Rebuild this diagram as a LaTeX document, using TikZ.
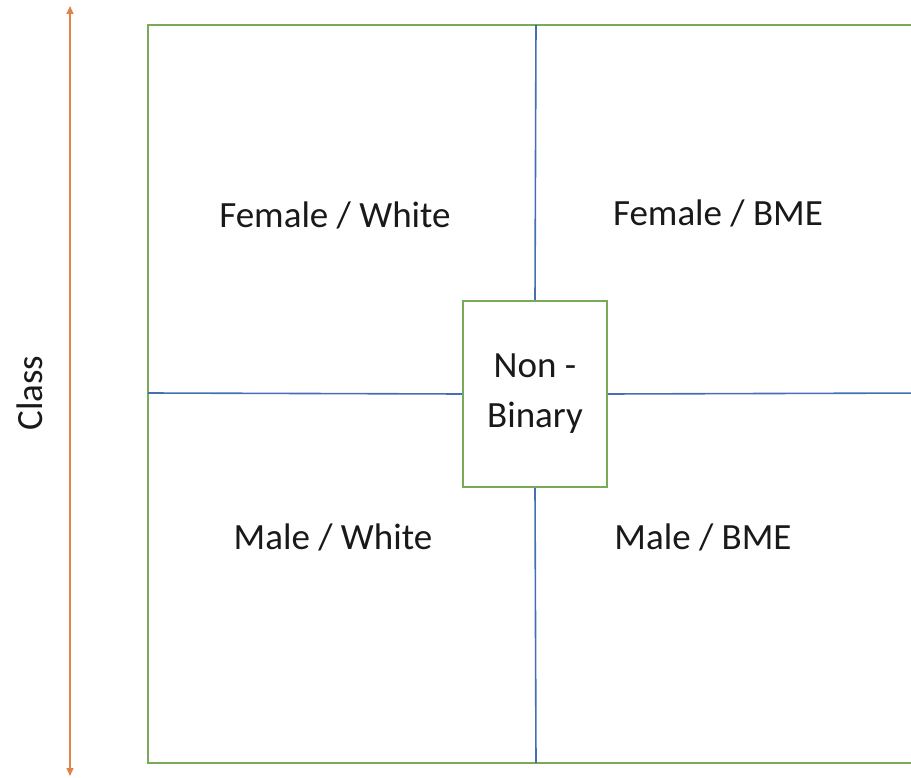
\documentclass[tikz,border=0pt]{standalone}
\usepackage{fontspec}
\setmainfont{Carlito}
\usetikzlibrary{arrows.meta}
\definecolor{bordergreen}{RGB}{120,170,90}
\definecolor{lineblue}{RGB}{70,110,180}
\definecolor{arroworange}{RGB}{225,130,70}
\tikzset{
  frame/.style={draw=bordergreen, line width=2pt},
  divider/.style={draw=lineblue, line width=1.6pt},
  lbl/.style={font=\fontsize{37}{44}\selectfont, text=black!90, inner sep=0pt},
  nbbox/.style={draw=bordergreen, line width=2pt, fill=white, minimum width=144pt, minimum height=186pt, align=center, font=\fontsize{37}{50}\selectfont, text=black!90, inner sep=0pt},
  axis/.style={draw=arroworange, line width=1.4pt, {Triangle[length=8pt,width=7pt]}-{Triangle[length=8pt,width=7pt]}}
}
\begin{document}
\begin{tikzpicture}[x=1pt,y=-1pt]
\useasboundingbox (0,0) rectangle (911,778);
% outer frame (extends beyond right edge)
\coordinate (tl) at (148,25);
\coordinate (br) at (930,763);
\coordinate (tm) at (536,25);
\coordinate (bm) at (536,763);
\coordinate (ml) at (148,393);
\coordinate (mr) at (930,393);
\draw[frame] (tl) rectangle (br);
\node[nbbox] (nb) at (535,394) {Non -\\Binary};
\draw[divider] (tm) -- (nb.north);
\draw[divider] (nb.south) -- (bm);
\draw[divider] (ml) -- (nb.west);
\draw[divider] (nb.east) -- (mr);
\node[lbl] (fw) at (335,215) {Female / White};
\node[lbl] (fb) at (718,213) {Female / BME};
\node[lbl] (mw) at (333,537) {Male / White};
\node[lbl] (mb) at (703,537) {Male / BME};
% class axis
\coordinate (at) at (70,6);
\coordinate (ab) at (70,776);
\draw[axis] (ab) -- (at);
\node[lbl, rotate=90] (cl) at (30,393) {Class};
\end{tikzpicture}
\end{document}
